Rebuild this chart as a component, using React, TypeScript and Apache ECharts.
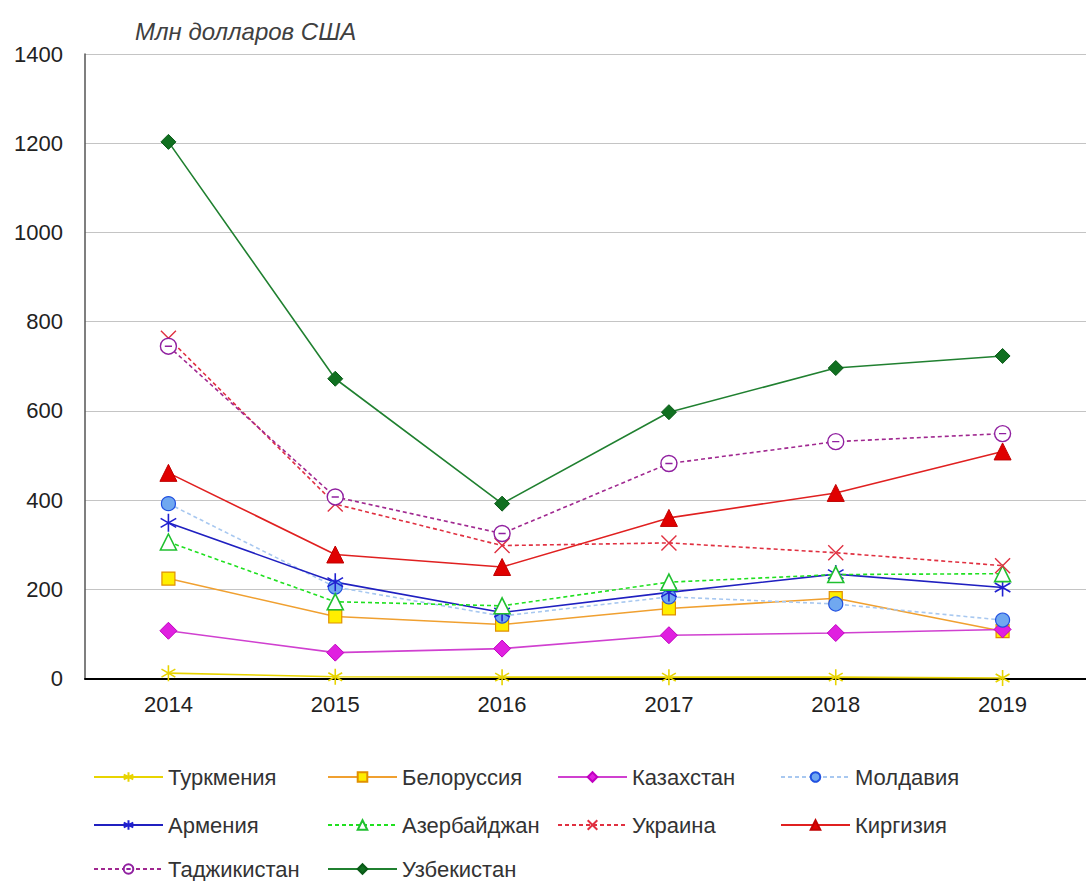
import React, { useEffect, useRef } from "react";
import * as echarts from "echarts";

const years = ["2014", "2015", "2016", "2017", "2018", "2019"];
const yTicks = { min: 0, max: 1400, interval: 200 };

const turkmenia = [12, 4, 3, 3, 3, 1];
const belarus = [224, 139, 121, 157, 180, 106];
const kazakhstan = [107, 58, 67, 97, 102, 110];
const moldova = [392, 205, 140, 183, 167, 131];
const armenia = [349, 216, 148, 193, 234, 204];
const azerbaijan = [306, 172, 163, 216, 233, 235];
const ukraine = [763, 391, 298, 304, 282, 253];
const kyrgyzstan = [461, 278, 250, 360, 416, 509];
const tajikistan = [745, 407, 325, 482, 531, 549];
const uzbekistan = [1203, 672, 392, 597, 696, 723];

const names = [
  "Туркмения",
  "Белоруссия",
  "Казахстан",
  "Молдавия",
  "Армения",
  "Азербайджан",
  "Украина",
  "Киргизия",
  "Таджикистан",
  "Узбекистан",
];

const ASTER = "path://M0,-10L0,10M-8.66,-5L8.66,5M-8.66,5L8.66,-5";
const XMARK = "path://M-7,-7L7,7M-7,7L7,-7";
const CIRCDASH = "path://M-10,0A10,10 0 1,1 10,0A10,10 0 1,1 -10,0ZM-4.5,0L4.5,0";

const FONT = "'Liberation Sans', Arial, sans-serif";

export default function App() {
  const ref = useRef<HTMLDivElement>(null);
  useEffect(() => {
    if (!ref.current) return;
    const chart = echarts.init(ref.current, null, { renderer: "svg" });

    const mk = (
      name: string,
      data: number[],
      lineColor: string,
      dashed: boolean,
      symbol: string,
      size: number,
      fill: string,
      border: string,
      bw = 1.5
    ) => ({
      name,
      type: "line",
      data,
      symbol,
      symbolSize: size,
      symbolKeepAspect: true,
      showAllSymbol: true,
      lineStyle: { color: lineColor, width: 1.6, type: dashed ? [4, 3] : "solid" },
      itemStyle: { color: fill, borderColor: border, borderWidth: bw },
      emphasis: { disabled: true },
    });

    const series = [
      mk(names[0], turkmenia, "#e8d400", false, ASTER, 16, "#e8d400", "#e8d400", 1.6),
      mk(names[1], belarus, "#f0a030", false, "rect", 13, "#ffee00", "#e09000", 1.2),
      mk(names[2], kazakhstan, "#d040d0", false, "diamond", 17, "#e020e0", "#c000c0", 1),
      mk(names[3], moldova, "#a8c8f0", true, "circle", 14, "#70a8f0", "#2050e0", 1.2),
      mk(names[4], armenia, "#2020c0", false, ASTER, 18, "#2020d0", "#2020d0", 1.6),
      mk(names[5], azerbaijan, "#20e020", true, "triangle", 16, "#ffffff", "#20c030", 1.6),
      mk(names[6], ukraine, "#e03040", true, XMARK, 15, "#e03040", "#e03040", 1.4),
      mk(names[7], kyrgyzstan, "#e02020", false, "triangle", 17, "#e00000", "#c00000", 1),
      mk(names[8], tajikistan, "#a02890", true, CIRCDASH, 16, "#ffffff", "#9020a0", 1.4),
      mk(names[9], uzbekistan, "#208030", false, "diamond", 15, "#107020", "#0a5a18", 1),
    ];

    const colX = [93, 327, 557, 780];
    const rowY = [777, 825, 869];
    const legends = names.map((n, i) => ({
      data: [n],
      left: colX[i % 4],
      top: rowY[Math.floor(i / 4)] - 11,
      orient: "horizontal",
      padding: 0,
      itemWidth: 69,
      itemHeight: 12,
      selectedMode: false,
      textStyle: { fontFamily: FONT, fontSize: 22, color: "#333", lineHeight: 22 },
    }));

    chart.setOption({
      animation: false,
      backgroundColor: "#ffffff",
      title: {
        text: "Млн долларов США",
        left: 130,
        top: 14,
        textStyle: {
          fontFamily: FONT,
          fontSize: 24,
          fontStyle: "italic",
          fontWeight: "normal",
          color: "#404040",
        },
      },
      legend: legends,
      grid: { left: 85, top: 54, width: 1013, height: 624.5, containLabel: false },
      xAxis: {
        type: "category",
        data: years,
        boundaryGap: true,
        axisLine: { show: true, lineStyle: { color: "#000", width: 2 } },
        axisTick: { show: false },
        axisLabel: { fontFamily: FONT, fontSize: 22, color: "#222", margin: 15 },
        splitLine: { show: false },
      },
      yAxis: {
        type: "value",
        min: yTicks.min,
        max: yTicks.max,
        interval: yTicks.interval,
        axisLine: { show: true, lineStyle: { color: "#555", width: 1.5 } },
        axisTick: { show: false },
        axisLabel: {
          fontFamily: FONT,
          fontSize: 22,
          color: "#222",
          margin: 22,
          formatter: (v: number) => String(v),
        },
        splitLine: { show: true, lineStyle: { color: "#c4c4c4", width: 1.2 } },
      },
      series,
    });
    return () => chart.dispose();
  }, []);
  return (
    <div
      ref={ref}
      style={{ position: "absolute", left: 0, top: 0, width: 1086, height: 881 }}
    />
  );
}
